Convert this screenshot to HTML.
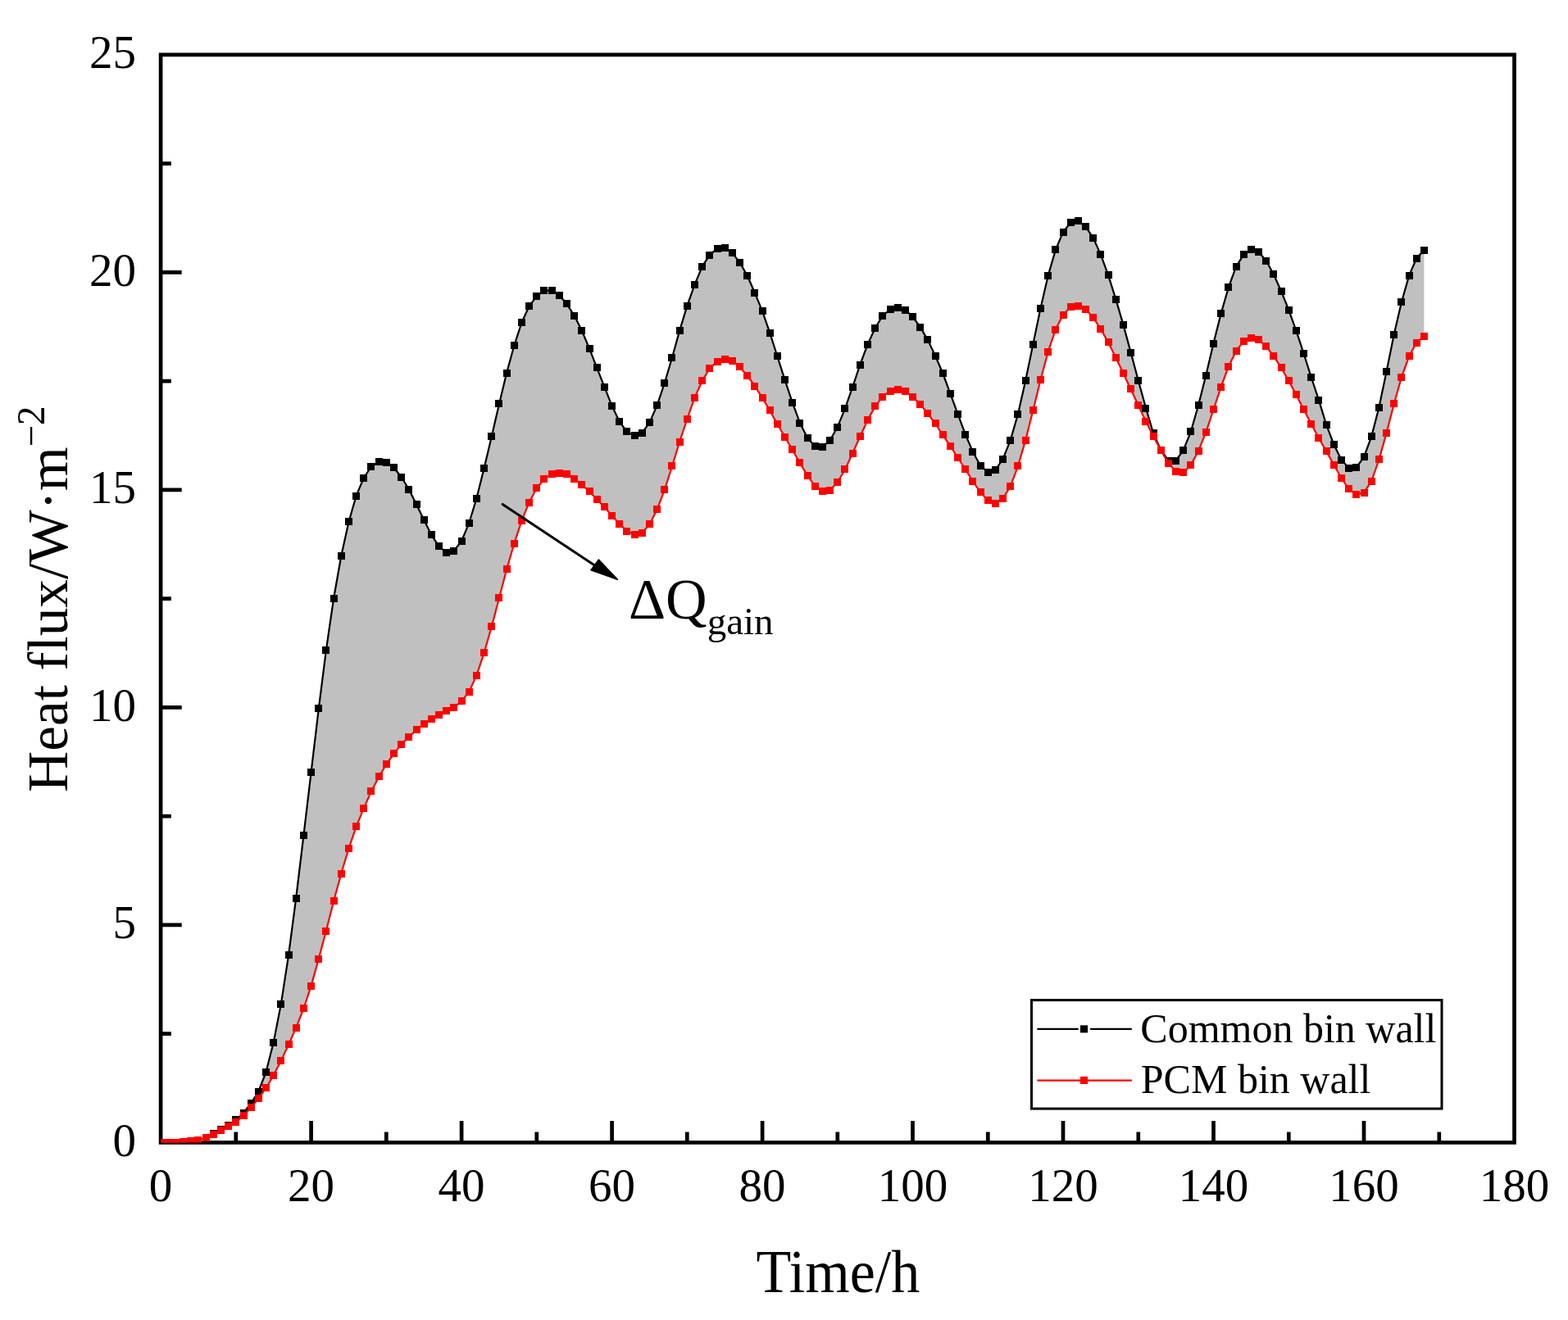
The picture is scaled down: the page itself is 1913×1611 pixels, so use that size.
<!DOCTYPE html><html><head><meta charset="utf-8"><title>Heat flux chart</title><style>html,body{margin:0;padding:0;background:#fff;}svg{display:block;}text{font-family:"Liberation Serif","Times New Roman",serif;fill:#000;}</style></head><body>
<svg width="1913" height="1611" viewBox="0 0 1913 1611">
<rect x="0" y="0" width="1913" height="1611" fill="#fff"/>
<defs><clipPath id="pc"><rect x="196.1" y="66.8" width="1651.4" height="1327.6"/></clipPath></defs>
<rect x="196.1" y="66.8" width="1651.4" height="1327.6" fill="none" stroke="#000" stroke-width="4.7" stroke-linejoin="miter"/>
<path d="M287.8 1394.4V1381.4M379.6 1394.4V1368M471.3 1394.4V1381.4M563.1 1394.4V1368M654.8 1394.4V1381.4M746.6 1394.4V1368M838.3 1394.4V1381.4M930.1 1394.4V1368M1021.8 1394.4V1381.4M1113.5 1394.4V1368M1205.3 1394.4V1381.4M1297 1394.4V1368M1388.8 1394.4V1381.4M1480.5 1394.4V1368M1572.3 1394.4V1381.4M1664 1394.4V1368M1755.8 1394.4V1381.4M196.1 1261.6H208.8M196.1 1128.9H221.7M196.1 996.1H208.8M196.1 863.4H221.7M196.1 730.6H208.8M196.1 597.8H221.7M196.1 465.1H208.8M196.1 332.3H221.7M196.1 199.6H208.8" stroke="#000" stroke-width="4.7" fill="none"/>
<g clip-path="url(#pc)">
<polygon points="196.1,1394.3 205.3,1394 214.4,1394 223.6,1393.5 232.8,1393 242,1391.5 251.1,1388.5 260.3,1383.7 269.5,1378.9 278.7,1373.8 287.8,1366.7 297,1358.5 306.2,1346.5 315.4,1332 324.5,1308.5 333.7,1272.3 342.9,1225.1 352.1,1165.5 361.2,1096 370.4,1019.9 379.6,942.3 388.8,865 397.9,793.3 407.1,730.3 416.3,678.5 425.5,636.8 434.6,605.2 443.8,583.1 453,569.5 462.2,563.5 471.3,564 480.5,570.7 489.7,582.2 498.9,597.3 508,615.4 517.2,634.4 526.4,652.9 535.6,667 544.7,674.1 553.9,672.2 563.1,660.3 572.3,638.2 581.4,608.2 590.6,571.5 599.8,532.8 609,492.9 618.1,455.2 627.3,421.8 636.5,393.5 645.6,373.8 654.8,361.4 664,354.7 673.2,354.7 682.3,360.2 691.5,371 700.7,385.3 709.9,403.6 719,425.2 728.2,448.8 737.4,472.2 746.6,495.3 755.7,514.4 764.9,527 774.1,531.5 783.3,528.3 792.4,515.9 801.6,494.8 810.8,467.5 820,436.5 829.1,403.6 838.3,373.4 847.5,347.3 856.7,325.3 865.8,311.2 875,303.4 884.2,302.7 893.4,308.9 902.5,320.1 911.7,336.5 920.9,357.3 930.1,379.9 939.2,406.1 948.4,435 957.6,463.8 966.8,491.4 975.9,516 985.1,534.6 994.3,544.5 1003.5,545.3 1012.6,537.3 1021.8,521.2 1031,498.6 1040.1,472.5 1049.3,445.2 1058.5,420.4 1067.7,400.5 1076.8,385.3 1086,377.9 1095.2,375.9 1104.4,378.4 1113.5,386.6 1122.7,399.2 1131.9,414.9 1141.1,434.3 1150.2,455.5 1159.4,480.3 1168.6,505.4 1177.8,530.1 1186.9,551.5 1196.1,568.2 1205.3,576.3 1214.5,573.5 1223.6,560.2 1232.8,537.1 1242,505.2 1251.2,464.4 1260.3,420.4 1269.5,376.3 1278.7,336.4 1287.9,304.9 1297,283.1 1306.2,271.8 1315.4,269.9 1324.6,276.6 1333.7,290.4 1342.9,310.6 1352.1,335.9 1361.3,365.1 1370.4,396.1 1379.6,430.1 1388.8,464.5 1398,498 1407.1,528.8 1416.3,549.5 1425.5,562 1434.7,562 1443.8,549.3 1453,526.5 1462.2,494 1471.3,458 1480.5,419.1 1489.7,382.5 1498.9,350.6 1508,325.7 1517.2,310.9 1526.4,304.6 1535.6,307.4 1544.7,318.3 1553.9,334.7 1563.1,355.5 1572.3,378.4 1581.4,403.6 1590.6,431.5 1599.8,460.5 1609,488.4 1618.1,518.2 1627.3,542.5 1636.5,561.2 1645.7,571.2 1654.8,570.4 1664,557.8 1673.2,532.9 1682.4,497.3 1691.5,453.7 1700.7,408.3 1709.9,368.7 1719.1,336.4 1728.2,315.3 1737.4,305.3 1737.4,410.1 1728.2,418 1719.1,435 1709.9,460.2 1700.7,492.9 1691.5,528.6 1682.4,561 1673.2,587.2 1664,601.4 1654.8,603.6 1645.7,596.9 1636.5,583.5 1627.3,567.3 1618.1,550.6 1609,534.7 1599.8,517.6 1590.6,499.8 1581.4,481.9 1572.3,464.8 1563.1,448.9 1553.9,434.6 1544.7,422.8 1535.6,414.7 1526.4,412.3 1517.2,416.6 1508,428.4 1498.9,447.2 1489.7,472 1480.5,499.9 1471.3,527.4 1462.2,550.2 1453,567.1 1443.8,576.9 1434.7,575.7 1425.5,565.3 1416.3,549.7 1407.1,532.2 1398,514.3 1388.8,494.7 1379.6,475 1370.4,455.5 1361.3,436.3 1352.1,417.9 1342.9,401.5 1333.7,387.6 1324.6,377.6 1315.4,373.5 1306.2,374.7 1297,384 1287.9,402.1 1278.7,429.2 1269.5,463.6 1260.3,500.9 1251.2,537.1 1242,568.6 1232.8,593.4 1223.6,608.3 1214.5,614.3 1205.3,610.6 1196.1,601 1186.9,587.2 1177.8,573 1168.6,558.5 1159.4,544.3 1150.2,530.8 1141.1,517 1131.9,505 1122.7,493.1 1113.5,484.6 1104.4,477.7 1095.2,475.2 1086,477.2 1076.8,484.1 1067.7,495.9 1058.5,512.7 1049.3,532.8 1040.1,553.2 1031,573 1021.8,588.5 1012.6,598.1 1003.5,599.5 994.3,593.2 985.1,580.4 975.9,564.9 966.8,549 957.6,533.3 948.4,517.8 939.2,501 930.1,485.6 920.9,471.2 911.7,458.5 902.5,447.8 893.4,440.4 884.2,438.9 875,441.1 865.8,449.6 856.7,464.7 847.5,485.2 838.3,511.5 829.1,539.2 820,569 810.8,597.6 801.6,621.9 792.4,639.9 783.3,650.2 774.1,652.8 764.9,648 755.7,639.5 746.6,629.3 737.4,619 728.2,609.3 719,599.7 709.9,591.6 700.7,584.9 691.5,578.9 682.3,577.3 673.2,578.6 664,584.6 654.8,595.7 645.6,613.1 636.5,635.4 627.3,663.3 618.1,695 609,729.8 599.8,764.8 590.6,796.8 581.4,824.1 572.3,844.2 563.1,855.6 553.9,863.4 544.7,867.5 535.6,872.1 526.4,877.1 517.2,883.3 508,890.8 498.9,899.4 489.7,908.4 480.5,919.9 471.3,933 462.2,947.9 453,965.9 443.8,986.3 434.6,1008.9 425.5,1035.3 416.3,1066 407.1,1099.8 397.9,1136 388.8,1170 379.6,1203.2 370.4,1231 361.2,1254.1 352.1,1275 342.9,1294.4 333.7,1312.3 324.5,1327.9 315.4,1340.5 306.2,1351.9 297,1361.6 287.8,1369.4 278.7,1374.5 269.5,1379.6 260.3,1384.3 251.1,1388.4 242,1391.5 232.8,1392.8 223.6,1393.5 214.4,1394 205.3,1394 196.1,1394" fill="#c0c0c0"/>
<polyline points="196.1,1394.3 205.3,1394 214.4,1394 223.6,1393.5 232.8,1393 242,1391.5 251.1,1388.5 260.3,1383.7 269.5,1378.9 278.7,1373.8 287.8,1366.7 297,1358.5 306.2,1346.5 315.4,1332 324.5,1308.5 333.7,1272.3 342.9,1225.1 352.1,1165.5 361.2,1096 370.4,1019.9 379.6,942.3 388.8,865 397.9,793.3 407.1,730.3 416.3,678.5 425.5,636.8 434.6,605.2 443.8,583.1 453,569.5 462.2,563.5 471.3,564 480.5,570.7 489.7,582.2 498.9,597.3 508,615.4 517.2,634.4 526.4,652.9 535.6,667 544.7,674.1 553.9,672.2 563.1,660.3 572.3,638.2 581.4,608.2 590.6,571.5 599.8,532.8 609,492.9 618.1,455.2 627.3,421.8 636.5,393.5 645.6,373.8 654.8,361.4 664,354.7 673.2,354.7 682.3,360.2 691.5,371 700.7,385.3 709.9,403.6 719,425.2 728.2,448.8 737.4,472.2 746.6,495.3 755.7,514.4 764.9,527 774.1,531.5 783.3,528.3 792.4,515.9 801.6,494.8 810.8,467.5 820,436.5 829.1,403.6 838.3,373.4 847.5,347.3 856.7,325.3 865.8,311.2 875,303.4 884.2,302.7 893.4,308.9 902.5,320.1 911.7,336.5 920.9,357.3 930.1,379.9 939.2,406.1 948.4,435 957.6,463.8 966.8,491.4 975.9,516 985.1,534.6 994.3,544.5 1003.5,545.3 1012.6,537.3 1021.8,521.2 1031,498.6 1040.1,472.5 1049.3,445.2 1058.5,420.4 1067.7,400.5 1076.8,385.3 1086,377.9 1095.2,375.9 1104.4,378.4 1113.5,386.6 1122.7,399.2 1131.9,414.9 1141.1,434.3 1150.2,455.5 1159.4,480.3 1168.6,505.4 1177.8,530.1 1186.9,551.5 1196.1,568.2 1205.3,576.3 1214.5,573.5 1223.6,560.2 1232.8,537.1 1242,505.2 1251.2,464.4 1260.3,420.4 1269.5,376.3 1278.7,336.4 1287.9,304.9 1297,283.1 1306.2,271.8 1315.4,269.9 1324.6,276.6 1333.7,290.4 1342.9,310.6 1352.1,335.9 1361.3,365.1 1370.4,396.1 1379.6,430.1 1388.8,464.5 1398,498 1407.1,528.8 1416.3,549.5 1425.5,562 1434.7,562 1443.8,549.3 1453,526.5 1462.2,494 1471.3,458 1480.5,419.1 1489.7,382.5 1498.9,350.6 1508,325.7 1517.2,310.9 1526.4,304.6 1535.6,307.4 1544.7,318.3 1553.9,334.7 1563.1,355.5 1572.3,378.4 1581.4,403.6 1590.6,431.5 1599.8,460.5 1609,488.4 1618.1,518.2 1627.3,542.5 1636.5,561.2 1645.7,571.2 1654.8,570.4 1664,557.8 1673.2,532.9 1682.4,497.3 1691.5,453.7 1700.7,408.3 1709.9,368.7 1719.1,336.4 1728.2,315.3 1737.4,305.3" fill="none" stroke="#000" stroke-width="2.2" stroke-linejoin="round"/><path d="M192 1390h9v9h-9zM201 1390h9v9h-9zM210 1390h9v9h-9zM219 1389h9v9h-9zM228 1388h9v9h-9zM237 1387h9v9h-9zM247 1384h9v9h-9zM256 1379h9v9h-9zM265 1374h9v9h-9zM274 1369h9v9h-9zM283 1362h9v9h-9zM293 1354h9v9h-9zM302 1342h9v9h-9zM311 1328h9v9h-9zM320 1304h9v9h-9zM329 1268h9v9h-9zM338 1221h9v9h-9zM348 1161h9v9h-9zM357 1092h9v9h-9zM366 1015h9v9h-9zM375 938h9v9h-9zM384 860h9v9h-9zM393 789h9v9h-9zM403 726h9v9h-9zM412 674h9v9h-9zM421 632h9v9h-9zM430 601h9v9h-9zM439 579h9v9h-9zM448 565h9v9h-9zM458 559h9v9h-9zM467 560h9v9h-9zM476 566h9v9h-9zM485 578h9v9h-9zM494 593h9v9h-9zM504 611h9v9h-9zM513 630h9v9h-9zM522 648h9v9h-9zM531 662h9v9h-9zM540 670h9v9h-9zM549 668h9v9h-9zM559 656h9v9h-9zM568 634h9v9h-9zM577 604h9v9h-9zM586 567h9v9h-9zM595 528h9v9h-9zM604 488h9v9h-9zM614 451h9v9h-9zM623 417h9v9h-9zM632 389h9v9h-9zM641 369h9v9h-9zM650 357h9v9h-9zM659 350h9v9h-9zM669 350h9v9h-9zM678 356h9v9h-9zM687 366h9v9h-9zM696 381h9v9h-9zM705 399h9v9h-9zM715 421h9v9h-9zM724 444h9v9h-9zM733 468h9v9h-9zM742 491h9v9h-9zM751 510h9v9h-9zM760 522h9v9h-9zM770 527h9v9h-9zM779 524h9v9h-9zM788 511h9v9h-9zM797 490h9v9h-9zM806 463h9v9h-9zM815 432h9v9h-9zM825 399h9v9h-9zM834 369h9v9h-9zM843 343h9v9h-9zM852 321h9v9h-9zM861 307h9v9h-9zM871 299h9v9h-9zM880 298h9v9h-9zM889 304h9v9h-9zM898 316h9v9h-9zM907 332h9v9h-9zM916 353h9v9h-9zM926 375h9v9h-9zM935 402h9v9h-9zM944 430h9v9h-9zM953 459h9v9h-9zM962 487h9v9h-9zM971 512h9v9h-9zM981 530h9v9h-9zM990 540h9v9h-9zM999 541h9v9h-9zM1008 533h9v9h-9zM1017 517h9v9h-9zM1026 494h9v9h-9zM1036 468h9v9h-9zM1045 441h9v9h-9zM1054 416h9v9h-9zM1063 396h9v9h-9zM1072 381h9v9h-9zM1082 373h9v9h-9zM1091 371h9v9h-9zM1100 374h9v9h-9zM1109 382h9v9h-9zM1118 395h9v9h-9zM1127 410h9v9h-9zM1137 430h9v9h-9zM1146 451h9v9h-9zM1155 476h9v9h-9zM1164 501h9v9h-9zM1173 526h9v9h-9zM1182 547h9v9h-9zM1192 564h9v9h-9zM1201 572h9v9h-9zM1210 569h9v9h-9zM1219 556h9v9h-9zM1228 533h9v9h-9zM1237 501h9v9h-9zM1247 460h9v9h-9zM1256 416h9v9h-9zM1265 372h9v9h-9zM1274 332h9v9h-9zM1283 300h9v9h-9zM1293 279h9v9h-9zM1302 267h9v9h-9zM1311 265h9v9h-9zM1320 272h9v9h-9zM1329 286h9v9h-9zM1338 306h9v9h-9zM1348 331h9v9h-9zM1357 361h9v9h-9zM1366 392h9v9h-9zM1375 426h9v9h-9zM1384 460h9v9h-9zM1393 494h9v9h-9zM1403 524h9v9h-9zM1412 545h9v9h-9zM1421 558h9v9h-9zM1430 558h9v9h-9zM1439 545h9v9h-9zM1448 522h9v9h-9zM1458 490h9v9h-9zM1467 454h9v9h-9zM1476 415h9v9h-9zM1485 378h9v9h-9zM1494 346h9v9h-9zM1504 321h9v9h-9zM1513 306h9v9h-9zM1522 300h9v9h-9zM1531 303h9v9h-9zM1540 314h9v9h-9zM1549 330h9v9h-9zM1559 351h9v9h-9zM1568 374h9v9h-9zM1577 399h9v9h-9zM1586 427h9v9h-9zM1595 456h9v9h-9zM1604 484h9v9h-9zM1614 514h9v9h-9zM1623 538h9v9h-9zM1632 557h9v9h-9zM1641 567h9v9h-9zM1650 566h9v9h-9zM1660 553h9v9h-9zM1669 528h9v9h-9zM1678 493h9v9h-9zM1687 449h9v9h-9zM1696 404h9v9h-9zM1705 364h9v9h-9zM1715 332h9v9h-9zM1724 311h9v9h-9zM1733 301h9v9h-9z" fill="#000"/>
<polyline points="196.1,1394 205.3,1394 214.4,1394 223.6,1393.5 232.8,1392.8 242,1391.5 251.1,1388.4 260.3,1384.3 269.5,1379.6 278.7,1374.5 287.8,1369.4 297,1361.6 306.2,1351.9 315.4,1340.5 324.5,1327.9 333.7,1312.3 342.9,1294.4 352.1,1275 361.2,1254.1 370.4,1231 379.6,1203.2 388.8,1170 397.9,1136 407.1,1099.8 416.3,1066 425.5,1035.3 434.6,1008.9 443.8,986.3 453,965.9 462.2,947.9 471.3,933 480.5,919.9 489.7,908.4 498.9,899.4 508,890.8 517.2,883.3 526.4,877.1 535.6,872.1 544.7,867.5 553.9,863.4 563.1,855.6 572.3,844.2 581.4,824.1 590.6,796.8 599.8,764.8 609,729.8 618.1,695 627.3,663.3 636.5,635.4 645.6,613.1 654.8,595.7 664,584.6 673.2,578.6 682.3,577.3 691.5,578.9 700.7,584.9 709.9,591.6 719,599.7 728.2,609.3 737.4,619 746.6,629.3 755.7,639.5 764.9,648 774.1,652.8 783.3,650.2 792.4,639.9 801.6,621.9 810.8,597.6 820,569 829.1,539.2 838.3,511.5 847.5,485.2 856.7,464.7 865.8,449.6 875,441.1 884.2,438.9 893.4,440.4 902.5,447.8 911.7,458.5 920.9,471.2 930.1,485.6 939.2,501 948.4,517.8 957.6,533.3 966.8,549 975.9,564.9 985.1,580.4 994.3,593.2 1003.5,599.5 1012.6,598.1 1021.8,588.5 1031,573 1040.1,553.2 1049.3,532.8 1058.5,512.7 1067.7,495.9 1076.8,484.1 1086,477.2 1095.2,475.2 1104.4,477.7 1113.5,484.6 1122.7,493.1 1131.9,505 1141.1,517 1150.2,530.8 1159.4,544.3 1168.6,558.5 1177.8,573 1186.9,587.2 1196.1,601 1205.3,610.6 1214.5,614.3 1223.6,608.3 1232.8,593.4 1242,568.6 1251.2,537.1 1260.3,500.9 1269.5,463.6 1278.7,429.2 1287.9,402.1 1297,384 1306.2,374.7 1315.4,373.5 1324.6,377.6 1333.7,387.6 1342.9,401.5 1352.1,417.9 1361.3,436.3 1370.4,455.5 1379.6,475 1388.8,494.7 1398,514.3 1407.1,532.2 1416.3,549.7 1425.5,565.3 1434.7,575.7 1443.8,576.9 1453,567.1 1462.2,550.2 1471.3,527.4 1480.5,499.9 1489.7,472 1498.9,447.2 1508,428.4 1517.2,416.6 1526.4,412.3 1535.6,414.7 1544.7,422.8 1553.9,434.6 1563.1,448.9 1572.3,464.8 1581.4,481.9 1590.6,499.8 1599.8,517.6 1609,534.7 1618.1,550.6 1627.3,567.3 1636.5,583.5 1645.7,596.9 1654.8,603.6 1664,601.4 1673.2,587.2 1682.4,561 1691.5,528.6 1700.7,492.9 1709.9,460.2 1719.1,435 1728.2,418 1737.4,410.1" fill="none" stroke="#f00" stroke-width="2.2" stroke-linejoin="round"/><path d="M192 1390h9v9h-9zM201 1390h9v9h-9zM210 1390h9v9h-9zM219 1389h9v9h-9zM228 1388h9v9h-9zM237 1387h9v9h-9zM247 1384h9v9h-9zM256 1380h9v9h-9zM265 1375h9v9h-9zM274 1370h9v9h-9zM283 1365h9v9h-9zM293 1357h9v9h-9zM302 1347h9v9h-9zM311 1336h9v9h-9zM320 1323h9v9h-9zM329 1308h9v9h-9zM338 1290h9v9h-9zM348 1270h9v9h-9zM357 1250h9v9h-9zM366 1226h9v9h-9zM375 1199h9v9h-9zM384 1166h9v9h-9zM393 1132h9v9h-9zM403 1095h9v9h-9zM412 1062h9v9h-9zM421 1031h9v9h-9zM430 1004h9v9h-9zM439 982h9v9h-9zM448 961h9v9h-9zM458 943h9v9h-9zM467 928h9v9h-9zM476 915h9v9h-9zM485 904h9v9h-9zM494 895h9v9h-9zM504 886h9v9h-9zM513 879h9v9h-9zM522 873h9v9h-9zM531 868h9v9h-9zM540 863h9v9h-9zM549 859h9v9h-9zM559 851h9v9h-9zM568 840h9v9h-9zM577 820h9v9h-9zM586 792h9v9h-9zM595 760h9v9h-9zM604 725h9v9h-9zM614 690h9v9h-9zM623 659h9v9h-9zM632 631h9v9h-9zM641 609h9v9h-9zM650 591h9v9h-9zM659 580h9v9h-9zM669 574h9v9h-9zM678 573h9v9h-9zM687 574h9v9h-9zM696 580h9v9h-9zM705 587h9v9h-9zM715 595h9v9h-9zM724 605h9v9h-9zM733 614h9v9h-9zM742 625h9v9h-9zM751 635h9v9h-9zM760 644h9v9h-9zM770 648h9v9h-9zM779 646h9v9h-9zM788 635h9v9h-9zM797 617h9v9h-9zM806 593h9v9h-9zM815 564h9v9h-9zM825 535h9v9h-9zM834 507h9v9h-9zM843 481h9v9h-9zM852 460h9v9h-9zM861 445h9v9h-9zM871 437h9v9h-9zM880 434h9v9h-9zM889 436h9v9h-9zM898 443h9v9h-9zM907 454h9v9h-9zM916 467h9v9h-9zM926 481h9v9h-9zM935 496h9v9h-9zM944 513h9v9h-9zM953 529h9v9h-9zM962 544h9v9h-9zM971 560h9v9h-9zM981 576h9v9h-9zM990 589h9v9h-9zM999 595h9v9h-9zM1008 594h9v9h-9zM1017 584h9v9h-9zM1026 568h9v9h-9zM1036 549h9v9h-9zM1045 528h9v9h-9zM1054 508h9v9h-9zM1063 491h9v9h-9zM1072 480h9v9h-9zM1082 473h9v9h-9zM1091 471h9v9h-9zM1100 473h9v9h-9zM1109 480h9v9h-9zM1118 489h9v9h-9zM1127 500h9v9h-9zM1137 512h9v9h-9zM1146 526h9v9h-9zM1155 540h9v9h-9zM1164 554h9v9h-9zM1173 568h9v9h-9zM1182 583h9v9h-9zM1192 596h9v9h-9zM1201 606h9v9h-9zM1210 610h9v9h-9zM1219 604h9v9h-9zM1228 589h9v9h-9zM1237 564h9v9h-9zM1247 533h9v9h-9zM1256 496h9v9h-9zM1265 459h9v9h-9zM1274 425h9v9h-9zM1283 398h9v9h-9zM1293 380h9v9h-9zM1302 370h9v9h-9zM1311 369h9v9h-9zM1320 373h9v9h-9zM1329 383h9v9h-9zM1338 397h9v9h-9zM1348 413h9v9h-9zM1357 432h9v9h-9zM1366 451h9v9h-9zM1375 470h9v9h-9zM1384 490h9v9h-9zM1393 510h9v9h-9zM1403 528h9v9h-9zM1412 545h9v9h-9zM1421 561h9v9h-9zM1430 571h9v9h-9zM1439 572h9v9h-9zM1448 563h9v9h-9zM1458 546h9v9h-9zM1467 523h9v9h-9zM1476 495h9v9h-9zM1485 468h9v9h-9zM1494 443h9v9h-9zM1504 424h9v9h-9zM1513 412h9v9h-9zM1522 408h9v9h-9zM1531 410h9v9h-9zM1540 418h9v9h-9zM1549 430h9v9h-9zM1559 444h9v9h-9zM1568 460h9v9h-9zM1577 477h9v9h-9zM1586 495h9v9h-9zM1595 513h9v9h-9zM1604 530h9v9h-9zM1614 546h9v9h-9zM1623 563h9v9h-9zM1632 579h9v9h-9zM1641 592h9v9h-9zM1650 599h9v9h-9zM1660 597h9v9h-9zM1669 583h9v9h-9zM1678 556h9v9h-9zM1687 524h9v9h-9zM1696 488h9v9h-9zM1705 456h9v9h-9zM1715 430h9v9h-9zM1724 414h9v9h-9zM1733 406h9v9h-9z" fill="#f00"/>
</g>
<text x="196.1" y="1465.5" font-size="57" text-anchor="middle">0</text>
<text x="379.6" y="1465.5" font-size="57" text-anchor="middle">20</text>
<text x="563.1" y="1465.5" font-size="57" text-anchor="middle">40</text>
<text x="746.6" y="1465.5" font-size="57" text-anchor="middle">60</text>
<text x="930.1" y="1465.5" font-size="57" text-anchor="middle">80</text>
<text x="1113.5" y="1465.5" font-size="57" text-anchor="middle">100</text>
<text x="1297" y="1465.5" font-size="57" text-anchor="middle">120</text>
<text x="1480.5" y="1465.5" font-size="57" text-anchor="middle">140</text>
<text x="1664" y="1465.5" font-size="57" text-anchor="middle">160</text>
<text x="1847.5" y="1465.5" font-size="57" text-anchor="middle">180</text>
<text x="166" y="1410.9" font-size="57" text-anchor="end">0</text>
<text x="166" y="1145.4" font-size="57" text-anchor="end">5</text>
<text x="166" y="879.9" font-size="57" text-anchor="end">10</text>
<text x="166" y="614.3" font-size="57" text-anchor="end">15</text>
<text x="166" y="348.8" font-size="57" text-anchor="end">20</text>
<text x="166" y="83.3" font-size="57" text-anchor="end">25</text>
<text transform="translate(922.5 1576.9) scale(1 1.06)" font-size="70">Time/h</text>
<text transform="translate(82 966.8) rotate(-90) scale(1 1.02)" font-size="69.3">Heat flux/W·m<tspan font-size="47" dy="-27.8">−2</tspan></text>
<line x1="613.2" y1="615.4" x2="730" y2="693" stroke="#000" stroke-width="3" stroke-linecap="round"/>
<polygon points="753.4,707.2 730.4,683 721,695.8" fill="#000" stroke="#000" stroke-width="1.5" stroke-linejoin="round"/>
<text x="767.1" y="755" font-size="70">ΔQ<tspan font-size="47" dy="18.6">gain</tspan></text>
<rect x="1258.5" y="1220.6" width="500.5" height="132.5" fill="#fff" stroke="#000" stroke-width="3"/>
<path d="M1265.4 1255.9H1315.6M1330.1 1255.9H1380.8" stroke="#000" stroke-width="2.3"/>
<rect x="1318" y="1251.3" width="9.1" height="9.1" fill="#000"/>
<path d="M1265.4 1318.7H1380.8" stroke="#f00" stroke-width="2.3"/>
<rect x="1318" y="1313.9" width="9.1" height="9.1" fill="#f00"/>
<text x="1391.3" y="1272.4" font-size="50">Common bin wall</text>
<text x="1391.8" y="1334" font-size="50">PCM bin wall</text>
</svg></body></html>
